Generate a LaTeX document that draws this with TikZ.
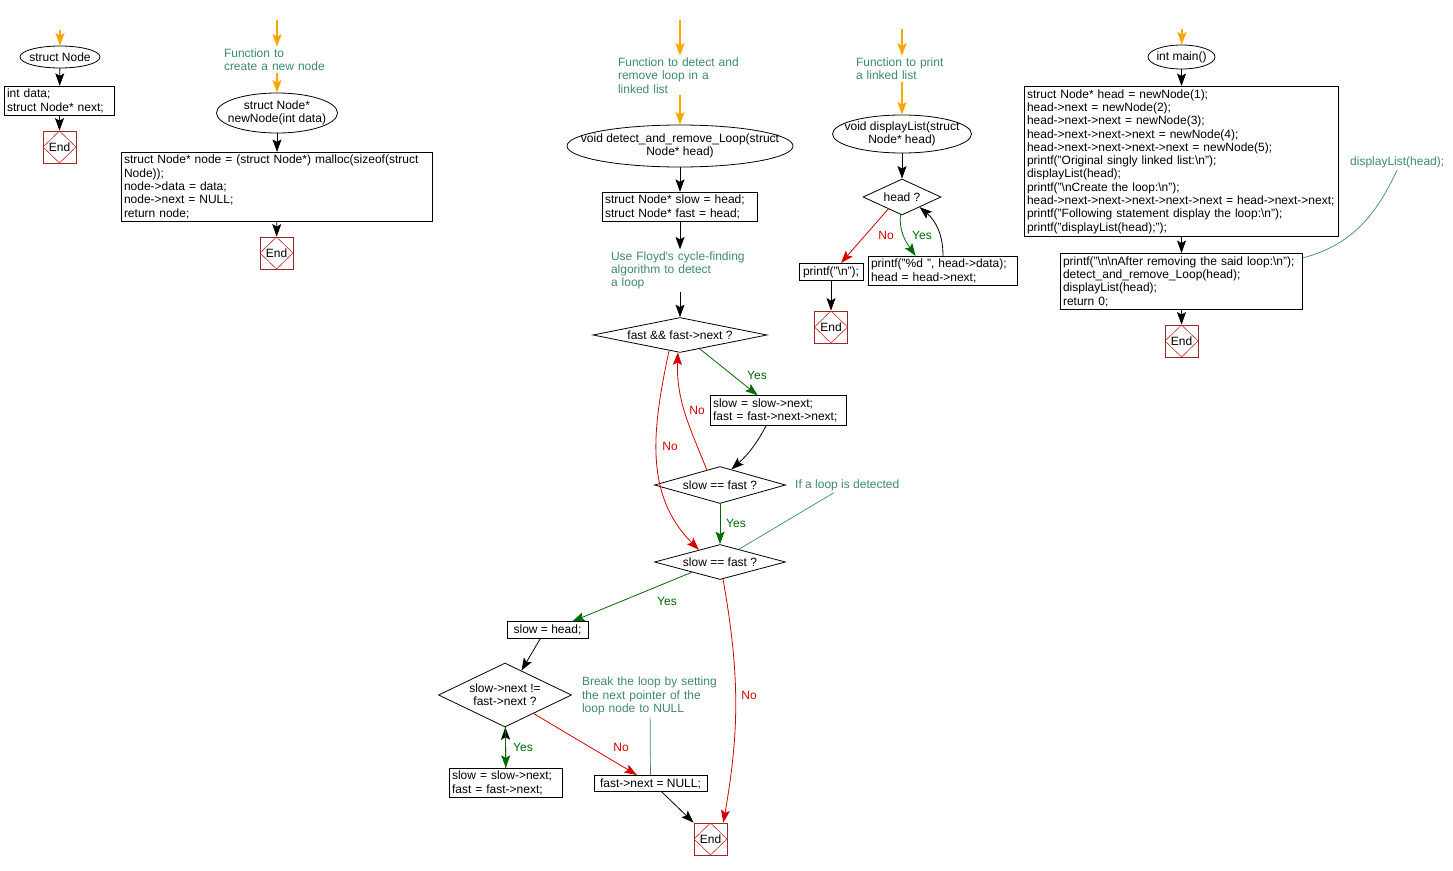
\documentclass[tikz,border=0pt]{standalone}
\usepackage{fontspec}
\setmainfont{Liberation Sans}
\usetikzlibrary{shapes.geometric,arrows.meta}

\definecolor{notecol}{RGB}{61,138,110}
\definecolor{yescol}{RGB}{0,105,0}
\definecolor{nocol}{RGB}{215,0,0}
\definecolor{startcol}{RGB}{255,165,0}
\definecolor{endcol}{RGB}{155,40,40}
\definecolor{enddia}{RGB}{210,40,40}

\tikzset{every node/.style={font=\fontsize{12}{13.3}\selectfont}}
\tikzset{proc/.style={draw, line width=0.8pt, align=left, inner xsep=2.5pt, inner ysep=3pt}}
\tikzset{term/.style={draw, ellipse, line width=0.8pt}}
\tikzset{cond/.style={draw, diamond, line width=0.8pt, inner sep=0pt, aspect=4, align=center}}
\tikzset{endbox/.style={draw=endcol, line width=0.8pt, minimum width=33pt, minimum height=32pt, inner sep=0pt,
  path picture={\draw[enddia, line width=0.6pt] (path picture bounding box.north) -- (path picture bounding box.east)
    -- (path picture bounding box.south) -- (path picture bounding box.west) -- cycle;}}}
\tikzset{note/.style={text=notecol, align=left, inner sep=2pt}}
\tikzset{flow/.style={draw=black, line width=0.8pt, -{Stealth[length=12.5pt,width=9pt,inset=2.5pt]}}}
\tikzset{yesflow/.style={flow, draw=yescol}}
\tikzset{noflow/.style={flow, draw=nocol}}
\tikzset{startflow/.style={flow, draw=startcol, line width=1.6pt}}
\tikzset{link/.style={draw=notecol, line width=0.7pt}}
\tikzset{yeslbl/.style={text=yescol, inner sep=0pt}}
\tikzset{nolbl/.style={text=nocol, inner sep=0pt}}

\begin{document}
\begin{tikzpicture}[x=1pt, y=1pt]
  \useasboundingbox (0,0) rectangle (1453,-870);

  % struct Node
  \coordinate (s1) at (60,-30);
  \node (sn) [term, minimum width=80pt, minimum height=22pt, label={center:struct Node}] at (60,-57) {};
  \node (sd) [proc, text width=105pt] at (59.5,-101) {int data;\\struct Node* next;};
  \node (e1) [endbox] at (59.5,-147) {End};

  \path (s1) edge[startflow] (sn);
  \path (sn) edge[flow] (sd);
  \path (sd) edge[flow] (e1);

  % newNode
  \coordinate (s2) at (277,-20);
  \node (c2) [note, text width=106pt] at (277,-60) {Function to\\create a new node};
  \node (nn) [term, minimum width=121pt, minimum height=40pt, label={[align=center]center:struct Node*\\newNode(int data)}] at (277,-113) {};
  \node (nb) [proc, text width=306pt] at (277,-187) {struct Node* node = (struct Node*) malloc(sizeof(struct\\Node));\\node->data = data;\\node->next = NULL;\\return node;};
  \node (e2) [endbox] at (276.5,-253) {End};

  \path (s2) edge[startflow] (c2);
  \path (c2) edge[startflow] (nn);
  \path (nn) edge[flow] (nb);
  \path (nb) edge[flow] (e2);

  % detect_and_remove_Loop
  \coordinate (s3) at (680,-20);
  \node (c3) [note, text width=124pt] at (680,-75.5) {Function to detect and\\remove loop in a\\linked list};
  \node (dr) [term, minimum width=226pt, minimum height=42pt, label={[align=center]center:void detect\_and\_remove\_Loop(struct\\Node* head)}] at (680,-146) {};
  \node (ini) [proc, text width=150pt] at (680,-207) {struct Node* slow = head;\\struct Node* fast = head;};
  \node (c4) [note, text width=138pt] at (680,-270.5) {Use Floyd\textquotesingle s cycle-finding\\algorithm to detect\\a loop};
  \node (d1) [cond, aspect=5, minimum width=174pt, minimum height=35pt] at (680,-335) {fast \&\& fast->next ?};
  \node (adv) [proc, text width=131pt] at (778.5,-410.5) {slow = slow->next;\\fast = fast->next->next;};
  \node (d2) [cond, minimum width=131pt, minimum height=37pt] at (720,-485) {slow == fast ?};
  \node (d3) [cond, minimum width=131pt, minimum height=35pt] at (720,-562) {slow == fast ?};
  \node (c5) [note, anchor=west] at (793,-485) {If a loop is detected};
  \node (sh) [proc, minimum width=81pt] at (547.5,-630) {slow = head;};
  \node (d4) [cond, aspect=2.1, minimum width=133pt, minimum height=64pt] at (505,-695) {slow->next !=\\fast->next ?};
  \node (adv2) [proc, text width=108pt] at (506,-783) {slow = slow->next;\\fast = fast->next;};
  \node (c6) [note, text width=136pt] at (650,-696) {Break the loop by setting\\the next pointer of the\\loop node to NULL};
  \node (nul) [proc, minimum width=113pt] at (650.5,-783.5) {fast->next = NULL;};
  \node (e3) [endbox] at (710.5,-839) {End};

  \path (s3) edge[startflow] (c3);
  \path (c3) edge[startflow] (dr);
  \path (dr) edge[flow] (ini);
  \path (ini) edge[flow] (c4);
  \path (c4) edge[flow] (d1);
  \path (d1.-35) edge[yesflow] (adv.144);
  \path (adv.-129) edge[flow, bend left=10] (d2.54);
  \path (d2.131) edge[noflow, out=112, in=-92] (d1.-97);
  \path (d1.-125) edge[noflow, out=-102, in=135] (d3.150);
  \path (d2) edge[yesflow] (d3);
  \path (c5.-150) edge[link] (d3.34);
  \path (d3.-160) edge[yesflow] (sh.19);
  \path (d3.-80) edge[noflow, out=-80, in=80] (e3.52);
  \path (sh.-130) edge[flow] (d4.56);
  \path (adv2) edge[flow] (d4);
  \path (d4) edge[yesflow] (adv2);
  \path (d4.-33) edge[noflow] (nul.148);
  \path (c6) edge[link] (nul);
  \path (nul.-37) edge[flow] (e3.north west);

  \node (ly1) [yeslbl] at (757,-375) {Yes};
  \node (ln1) [nolbl] at (697,-410) {No};
  \node (ln2) [nolbl] at (670,-446) {No};
  \node (ly2) [yeslbl] at (736,-523) {Yes};
  \node (ly3) [yeslbl] at (667,-601) {Yes};
  \node (ln3) [nolbl] at (749,-695) {No};
  \node (ly4) [yeslbl] at (523,-747) {Yes};
  \node (ln4) [nolbl] at (621,-747) {No};

  % displayList
  \coordinate (s4) at (902,-29);
  \node (c7) [note, text width=92pt] at (902,-69) {Function to print\\a linked list};
  \node (dl) [term, minimum width=139pt, minimum height=38pt, label={[align=center]center:void displayList(struct\\Node* head)}] at (902,-134) {};
  \node (d5) [cond, aspect=2.5, minimum width=78pt, minimum height=36pt] at (902,-197) {head ?};
  \node (pn) [proc, minimum width=64pt] at (831,-272) {printf("\textbackslash n");};
  \node (pd) [proc, text width=144pt] at (943,-271) {printf("\%d ", head->data);\\head = head->next;};
  \node (e4) [endbox] at (831,-327) {End};

  \path (s4) edge[startflow] (c7);
  \path (c7) edge[startflow] (dl);
  \path (dl) edge[flow] (d5);
  \path (d5.-139) edge[noflow] (pn.42);
  \path (d5.-95) edge[yesflow, out=-95, in=125] (pd.151);
  \path (pd.north) edge[flow, out=90, in=-40] (d5.-30);
  \path (pn) edge[flow] (e4);

  \node (ln5) [nolbl] at (886,-235) {No};
  \node (ly5) [yeslbl] at (922,-235) {Yes};

  % main
  \coordinate (s5) at (1182,-29);
  \node (mn) [term, minimum width=67pt, minimum height=24pt, label={center:int main()}] at (1181.5,-57) {};
  \node (mb) [proc, text width=309pt] at (1181.5,-161.5) {struct Node* head = newNode(1);\\head->next = newNode(2);\\head->next->next = newNode(3);\\head->next->next->next = newNode(4);\\head->next->next->next->next = newNode(5);\\printf("Original singly linked list:\textbackslash n");\\displayList(head);\\printf("\textbackslash nCreate the loop:\textbackslash n");\\head->next->next->next->next->next = head->next->next;\\printf("Following statement display the loop:\textbackslash n");\\printf("displayList(head);");};
  \node (mr) [proc, text width=237pt] at (1181.5,-281.5) {printf("\textbackslash n\textbackslash nAfter removing the said loop:\textbackslash n");\\detect\_and\_remove\_Loop(head);\\displayList(head);\\return 0;};
  \node (e5) [endbox] at (1181.5,-341) {End};
  \node (c8) [note, anchor=west] at (1348,-162) {displayList(head);};

  \path (s5) edge[startflow] (mn);
  \path (mn) edge[flow] (mb);
  \path (mb) edge[flow] (mr);
  \path (mr) edge[flow] (e5);
  \path (c8.south) edge[link, out=-115, in=15] (mr.11);
\end{tikzpicture}
\end{document}
